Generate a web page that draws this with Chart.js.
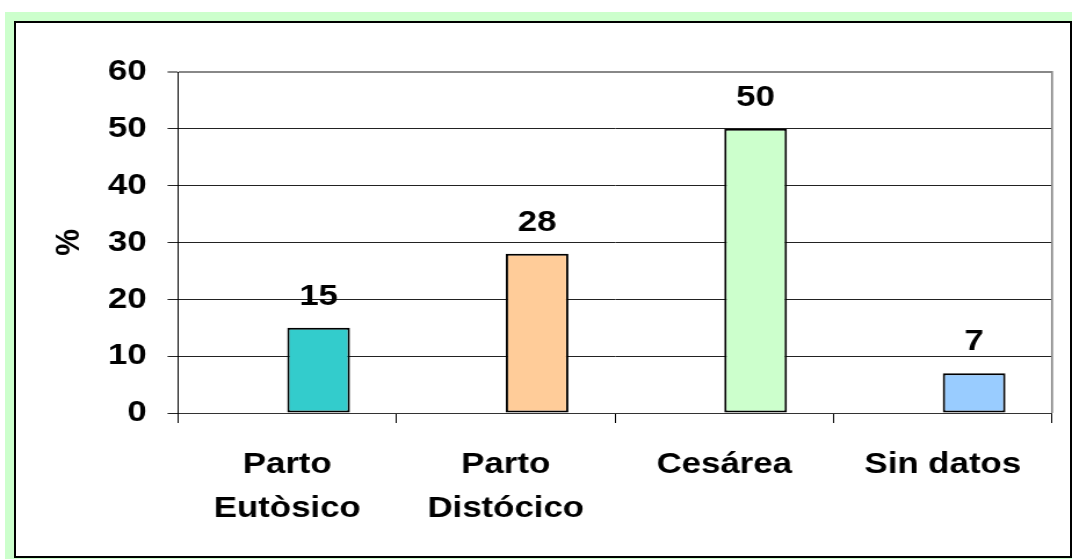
<!DOCTYPE html>
<html lang="es">
<head>
<meta charset="utf-8">
<title>Tipo de parto</title>
<script src="https://cdn.jsdelivr.net/npm/chart.js@4.4.1/dist/chart.umd.min.js"></script>
<style>
    body { margin: 0; background: #fff; }
    /* marco verde de fondo */
    .fondo-verde {
        position: absolute; left: 5px; top: 12px; width: 1067px; height: 547px;
        background: #ccffcc;
    }
    /* recuadro blanco con borde negro */
    .recuadro {
        position: absolute; left: 14px; top: 21px; width: 1054px; height: 533px;
        background: #fff; border: 2px solid #000;
    }
    /* el lienzo se estira en horizontal para ensanchar la letra */
    #grafico-parto {
        position: absolute; left: 0; top: 0;
        width: 1072px !important; height: 559px !important;
    }
</style>
</head>
<body>
<div class="fondo-verde"></div>
<div class="recuadro"></div>
<canvas id="grafico-parto" width="924" height="559" style="width:1072px;height:559px"></canvas>

<script>
/*
    ********************************
        datos del grafico
    ********************************
*/
const categorias = [["Parto", "Eutòsico"], ["Parto", "Distócico"], ["Cesárea"], ["Sin datos"]];
const porcentajes = [15, 28, 50, 7];
const serieVacia = [null, null, null, null];
const coloresBarras = ["#33cccc", "#ffcc99", "#ccffcc", "#99ccff"];
const marcasEjeY = [0, 10, 20, 30, 40, 50, 60];

const fuente = "'Liberation Sans', Arial, sans-serif";
Chart.defaults.font.family = fuente;
Chart.defaults.font.size = 30;
Chart.defaults.font.weight = "bold";
Chart.defaults.color = "#000";

/*
    ********************************
    plugin que escribe el valor
    encima de cada barra
    ********************************
*/
const etiquetasValores = {
    id: "etiquetasValores",
    afterDatasetsDraw(chart) {
        const ctx = chart.ctx;
        const meta = chart.getDatasetMeta(1);
        ctx.save();
        ctx.font = "bold 30px " + fuente;
        ctx.fillStyle = "#000";
        ctx.textAlign = "center";
        ctx.textBaseline = "alphabetic";
        for (let i = 0; i < meta.data.length; i++) {
            const barra = meta.data[i];
            ctx.fillText(String(porcentajes[i]), barra.x, barra.y - 23);
        }
        ctx.restore();
    }
};

// borde gris a la derecha del area de trazado
const bordeDerecho = {
    id: "bordeDerecho",
    afterDraw(chart) {
        const { ctx, chartArea } = chart;
        ctx.save();
        ctx.strokeStyle = "#888";
        ctx.lineWidth = 1.7;
        ctx.beginPath();
        ctx.moveTo(chartArea.right, chartArea.top - 1);
        ctx.lineTo(chartArea.right, chartArea.bottom);
        ctx.stroke();
        ctx.restore();
    }
};

const data = {
    labels: categorias,
    datasets: [
        {
            label: "vacia",
            data: serieVacia
        },
        {
            label: "%",
            data: porcentajes,
            backgroundColor: coloresBarras,
            borderColor: "#000",
            borderWidth: 2,
            borderSkipped: false
        }
    ]
};

const config = {
    type: "bar",
    data: data,
    options: {
        responsive: false,
        animation: false,
        events: [],
        categoryPercentage: 0.5734,
        barPercentage: 1,
        layout: {
            padding: { left: 10, right: 17.2, top: 72, bottom: 10 }
        },
        plugins: {
            legend: { display: false },
            tooltip: { enabled: false }
        },
        scales: {
            x: {
                afterFit(scale) { scale.height = 136; },
                grid: {
                    drawOnChartArea: false,
                    drawTicks: true,
                    tickLength: 10,
                    color: "#000"
                },
                border: { color: "#333", width: 1 },
                ticks: {
                    padding: 20,
                    maxRotation: 0,
                    autoSkip: false,
                    font: { size: 30, weight: "bold", lineHeight: "44px" }
                }
            },
            y: {
                min: 0,
                max: 60,
                afterFit(scale) { scale.width = 143.4; },
                afterBuildTicks(scale) {
                    scale.ticks = marcasEjeY.map(v => ({ value: v }));
                },
                grid: {
                    tickLength: 9,
                    color: ctx => (ctx.tick && ctx.tick.value === 60 ? "#888" : "#222"),
                    lineWidth: ctx => (ctx.tick && ctx.tick.value === 60 ? 2 : 1)
                },
                border: { color: "#000", width: 1 },
                ticks: {
                    padding: 18,
                    font: { size: 30, weight: "bold" }
                },
                title: {
                    display: true,
                    text: "%",
                    padding: { top: 32, bottom: 0 },
                    font: { size: 30, weight: "bold" }
                }
            }
        }
    },
    plugins: [etiquetasValores, bordeDerecho]
};

const graficoParto = new Chart(document.querySelector("#grafico-parto"), config);
</script>
</body>
</html>
